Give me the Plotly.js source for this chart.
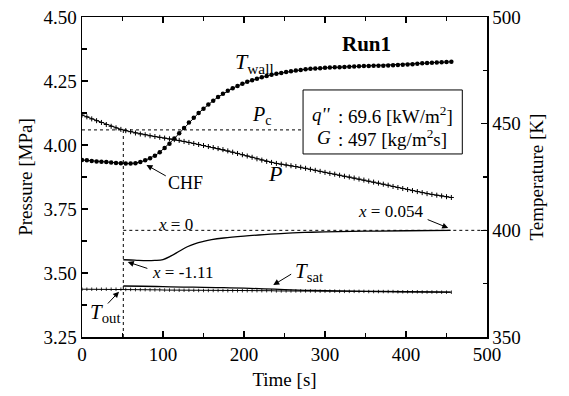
<!DOCTYPE html>
<html>
<head>
<meta charset="utf-8">
<script src="https://cdn.plot.ly/plotly-3.0.1.min.js"></script>
<style>html,body{margin:0;padding:0;background:#fff;}#chart{width:569px;height:396px;}</style>
</head>
<body>
<div id="chart"></div>
<script>
// ---- data ----
const time = [0,6,12,18,24,30,36,42,48,54,60,66,72,78,84,90,96,102,108,114,120,126,132,138,144,150,156,162,168,174,180,186,192,198,204,210,216,222,228,234,240,246,252,258,264,270,276,282,288,294,300,306,312,318,324,330,336,342,348,354,360,366,372,378,384,390,396,402,408,414,420,426,432,438,444,450,456];
const tWall = [433.0,432.8,432.5,432.3,432.1,432.0,431.8,431.6,431.4,431.3,431.3,431.5,432.0,432.8,433.8,435.0,436.6,438.6,440.6,443.0,445.5,448.0,450.5,452.8,455.0,457.0,459.0,460.8,462.5,464.0,465.4,466.6,467.7,468.7,469.6,470.4,471.1,471.8,472.4,472.9,473.4,473.8,474.2,474.6,474.9,475.2,475.5,475.7,475.9,476.0,476.2,476.3,476.4,476.5,476.6,476.7,476.8,476.9,477.0,477.0,477.1,477.2,477.2,477.3,477.4,477.5,477.6,477.7,477.9,478.1,478.3,478.4,478.6,478.7,478.8,478.9,479.0];
const pressure = [4.117,4.110,4.102,4.095,4.088,4.080,4.073,4.067,4.061,4.056,4.052,4.047,4.043,4.040,4.036,4.033,4.030,4.027,4.024,4.021,4.018,4.014,4.010,4.006,4.002,3.998,3.994,3.990,3.986,3.982,3.977,3.972,3.967,3.962,3.957,3.952,3.946,3.941,3.936,3.932,3.928,3.925,3.922,3.919,3.916,3.913,3.909,3.905,3.901,3.897,3.893,3.889,3.886,3.882,3.878,3.875,3.871,3.867,3.863,3.859,3.855,3.851,3.847,3.843,3.838,3.834,3.830,3.826,3.822,3.818,3.814,3.810,3.807,3.804,3.801,3.798,3.795];
const tOut = [372.4,372.4,372.4,372.4,372.4,372.4,372.4,372.4,372.4,372.3,372.3,372.2,372.2,372.2,372.1,372.1,372.1,372.0,372.0,372.0,371.9,371.9,371.9,371.9,371.8,371.8,371.8,371.8,371.8,371.8,371.7,371.7,371.7,371.7,371.7,371.7,371.7,371.7,371.7,371.7,371.6,371.6,371.6,371.6,371.6,371.6,371.6,371.6,371.5,371.5,371.5,371.5,371.5,371.4,371.4,371.4,371.4,371.4,371.4,371.3,371.3,371.3,371.3,371.3,371.3,371.2,371.2,371.2,371.2,371.2,371.1,371.1,371.1,371.1,371.0,371.0,371.0];
const tSatTime = [51,75,100,125,150,175,200,225,250,275,300,350,400,455];
const tSat = [373.9,373.8,373.6,373.4,373.3,373.1,372.9,372.6,372.2,371.9,371.7,371.4,371.2,371.0];
const qualTime = [51,60,70,80,90,100,110,120,130,140,150,160,175,200,225,250,275,300,350,400,455];
const qualCurve = [386.2,386.1,385.9,385.8,385.9,386.3,388.0,390.2,392.3,393.8,394.8,395.6,396.4,397.3,398.0,398.6,399.0,399.3,399.6,399.8,400.0];
const pCrit = 4.059;      // MPa
const chfTime = 51;       // s
const xZeroTemp = 400;    // K
const leftTicks = [3.25,3.50,3.75,4.00,4.25,4.50];
const leftTickText = ['3.25','3.50','3.75','4.00','4.25','4.50'];

const F = "'Times New Roman', 'Liberation Serif', 'DejaVu Serif', serif";

const traces = [
  {x: time, y: tOut, yaxis:'y2', mode:'lines+markers', line:{color:'#000', width:1},
   marker:{symbol:'line-ns-open', size:2.5, line:{color:'#000', width:0.8}}, hoverinfo:'skip'},
  {x: tSatTime, y: tSat, yaxis:'y2', mode:'lines', line:{color:'#000', width:1.3, shape:'spline'}, hoverinfo:'skip'},
  {x: qualTime, y: qualCurve, yaxis:'y2', mode:'lines', line:{color:'#000', width:1.3, shape:'spline'}, hoverinfo:'skip'},
  {x: time, y: pressure, yaxis:'y', mode:'lines+markers', line:{color:'#000', width:1},
   marker:{symbol:'cross-thin-open', size:3.6, line:{color:'#000', width:1}}, hoverinfo:'skip'},
  {x: time, y: tWall, yaxis:'y2', mode:'lines+markers', line:{color:'#000', width:1},
   marker:{symbol:'circle', size:4.5, color:'#000'}, hoverinfo:'skip'}
];

const arrow = (tx, ty, hx, hy) => ({x:hx, y:hy, ax:tx, ay:ty, xref:'x', yref:'y', axref:'x', ayref:'y',
  text:'', showarrow:true, arrowhead:2, arrowsize:1.2, arrowwidth:1, arrowcolor:'#000', standoff:0, startstandoff:0});
const lab = (x, y, text, size, extra) => Object.assign({x:x, y:y, xref:'x', yref:'y', text:text, showarrow:false,
  font:{family:F, size:size, color:'#000'}}, extra||{});

const annotations = [
  arrow(105.3, 3.876, 79.6, 3.922),
  lab(128.2, 3.853, 'CHF', 18),
  arrow(82.5, 3.516, 56.5, 3.543),
  lab(124.5, 3.501, '<i>x</i> = -1.11', 17),
  arrow(424.9, 3.711, 452.1, 3.676),
  lab(380.4, 3.742, '<i>x</i> = 0.054', 17),
  lab(115.8, 3.691, '<i>x</i> = 0', 17),
  arrow(260.1, 3.499, 236.1, 3.453),
  lab(261, 3.505, '<i>T</i><sub>sat</sub>', 21, {xanchor:'left'}),
  arrow(30.2, 3.375, 45.7, 3.427),
  lab(8, 3.345, '<i>T</i><sub>out</sub>', 21, {xanchor:'left'}),
  lab(238, 3.889, '<i>P</i>', 22),
  lab(207, 4.115, '<i>P</i><sub>c</sub>', 20, {xanchor:'left'}),
  lab(186, 4.322, '<i>T</i><sub>wall</sub>', 22, {xanchor:'left'}),
  lab(351.6, 4.395, '<b>Run1</b>', 21),
  lab(281.5, 4.119, "<i>q''</i>", 19, {xanchor:'left'}),
  lab(313, 4.119, ': 69.6 [kW/m<sup>2</sup>]', 19, {xanchor:'left'}),
  lab(287.5, 4.029, '<i>G</i>', 19, {xanchor:'left'}),
  lab(313, 4.029, ': 497 [kg/m<sup>2</sup>s]', 19, {xanchor:'left'})
];

const shapes = [
  {type:'line', xref:'x', yref:'y', x0:0, x1:300, y0:pCrit, y1:pCrit, line:{color:'#000', width:1, dash:'dot'}},
  {type:'line', xref:'x', yref:'y', x0:chfTime, x1:chfTime, y0:3.25, y1:pCrit, line:{color:'#000', width:1, dash:'dot'}},
  {type:'line', xref:'x', yref:'y2', x0:chfTime, x1:500, y0:xZeroTemp, y1:xZeroTemp, line:{color:'#000', width:1, dash:'dot'}},
  {type:'rect', xref:'x', yref:'y', x0:272.9, x1:469.5, y0:3.965, y1:4.215, line:{color:'#000', width:1}, fillcolor:'#fff', layer:'above'}
];

const axisCommon = {showline:true, linecolor:'#000', linewidth:1.5, ticks:'inside', tickcolor:'#000', ticklen:6, tickwidth:1.2,
  showgrid:false, zeroline:false, tickfont:{family:F, size:19, color:'#000'}};

const layout = {
  width:569, height:396, margin:{l:82, r:82, t:17, b:59}, paper_bgcolor:'#fff', plot_bgcolor:'#fff', showlegend:false,
  font:{family:F, color:'#000'},
  xaxis: Object.assign({}, axisCommon, {range:[0,500], tickvals:[0,100,200,300,400,500], mirror:'ticks',
    minor:{tickvals:[50,150,250,350,450], ticklen:4, tickcolor:'#000', ticks:'inside', tickwidth:1.2},
    title:{text:'Time [s]', font:{family:F, size:19, color:'#000'}, standoff:8}}),
  yaxis: Object.assign({}, axisCommon, {range:[3.25,4.50], tickvals:leftTicks, ticktext:leftTickText,
    minor:{tickvals:[3.375,3.625,3.875,4.125,4.375], ticklen:5, tickcolor:'#000', ticks:'inside', tickwidth:1.2},
    title:{text:'Pressure [MPa]', font:{family:F, size:19, color:'#000'}, standoff:6}}),
  yaxis2: Object.assign({}, axisCommon, {range:[350,500], tickvals:[350,400,450,500], overlaying:'y', side:'right',
    minor:{tickvals:[375,425,475], ticklen:4, tickcolor:'#000', ticks:'inside', tickwidth:1.2},
    title:{text:'Temperature [K]', font:{family:F, size:19, color:'#000'}, standoff:10}}),
  annotations: annotations,
  shapes: shapes
};

Plotly.newPlot('chart', traces, layout, {staticPlot:true, displayModeBar:false});
</script>
</body>
</html>
